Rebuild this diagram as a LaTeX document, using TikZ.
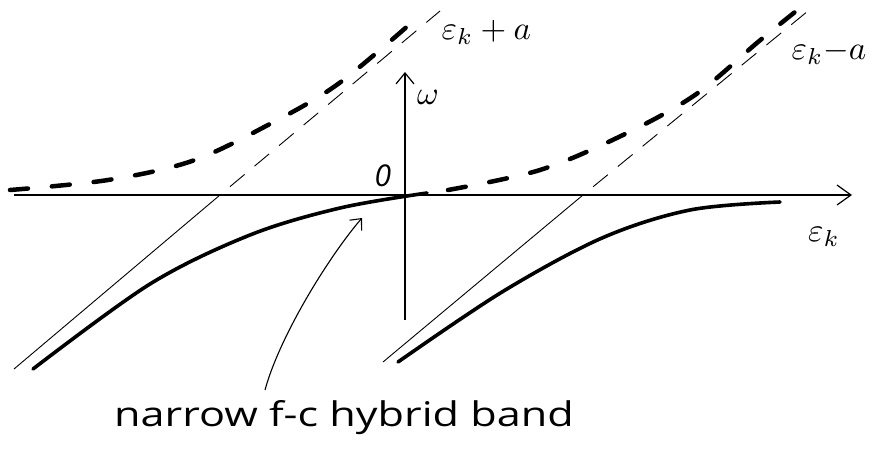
\documentclass[tikz,border=0pt]{standalone}
\usepackage{fontspec}
\setmainfont{Open Sans}
\usetikzlibrary{arrows.meta}
\begin{document}
\begin{tikzpicture}[x=1pt,y=-1pt,
  axis/.style={line width=1.2pt},
  asym/.style={line width=0.9pt},
  asymdash/.style={line width=0.9pt,dash pattern=on 19pt off 13pt,dash phase=19pt},
  band/.style={line width=3.6pt,line cap=round},
  bandup/.style={line width=4.5pt,line cap=round,dash pattern=on 18pt off 24pt},
  lbl/.style={inner sep=0pt,scale=3.3},
  txtlbl/.style={inner sep=0pt,font=\fontsize{34}{40}\selectfont},
  pointer/.style={line width=1.1pt,-{Straight Barb[length=9pt,width=16pt,line width=1.1pt]}}]
\useasboundingbox (0,0) rectangle (870,450);
% axes
\coordinate (xl) at (14,195);
\coordinate (xr) at (852,195);
\coordinate (yb) at (405,320);
\coordinate (yt) at (405,72);
\draw[axis,-{Straight Barb[length=14pt,width=20pt,line width=1.2pt]}] (xl) -- (xr);
\draw[axis,-{Straight Barb[length=11pt,width=18pt,line width=1.2pt]}] (yb) -- (yt);
% asymptotes
\coordinate (aLb) at (14,369);
\coordinate (aL0) at (220,195);
\coordinate (aLt) at (440,11);
\coordinate (aRb) at (383,362);
\coordinate (aR0) at (583,195);
\coordinate (aRt) at (808,11);
\draw[asym] (aLb) -- (aL0);
\draw[asymdash] (aL0) -- (aLt);
\draw[asym] (aRb) -- (aR0);
\draw[asymdash] (aR0) -- (aRt);
% upper (dashed) bands
\draw[bandup] plot[smooth,tension=0.55] coordinates {(10,190) (108,180) (192,161) (268,125) (338,84) (418,17)};
\draw[bandup] plot[smooth,tension=0.55] coordinates {(448,190) (540,170) (623,135) (695,95) (758,42) (795,12)};
% lower (solid) bands
\draw[band] plot[smooth,tension=0.55] coordinates {(33,369) (150,284) (250,235) (340,208) (427,193)};
\draw[band] plot[smooth,tension=0.55] coordinates {(398,362) (502,292) (602,238) (690,210) (780,202)};
% labels
\node[lbl] (om) at (428,97) {$\omega$};
\node[inner sep=0pt,font=\fontsize{30}{36}\selectfont] (zero) at (383,176) {\textit{0}};
\node[lbl,anchor=west] (ekpa) at (441,32) {$\varepsilon_k+a$};
\node[lbl,anchor=west] (ekma) at (791,52) {$\varepsilon_k{-}a$};
\node[lbl] (ek) at (824,237) {$\varepsilon_k$};
\node[txtlbl] (txt) at (344,418) {\scalebox{1.27}[1]{narrow f-c hybrid band}};
% pointer
\coordinate (pstart) at (265,390);
\coordinate (ptip) at (362,218);
\draw[pointer] (pstart) .. controls (280,335) and (330,255) .. (ptip);
\end{tikzpicture}
\end{document}
